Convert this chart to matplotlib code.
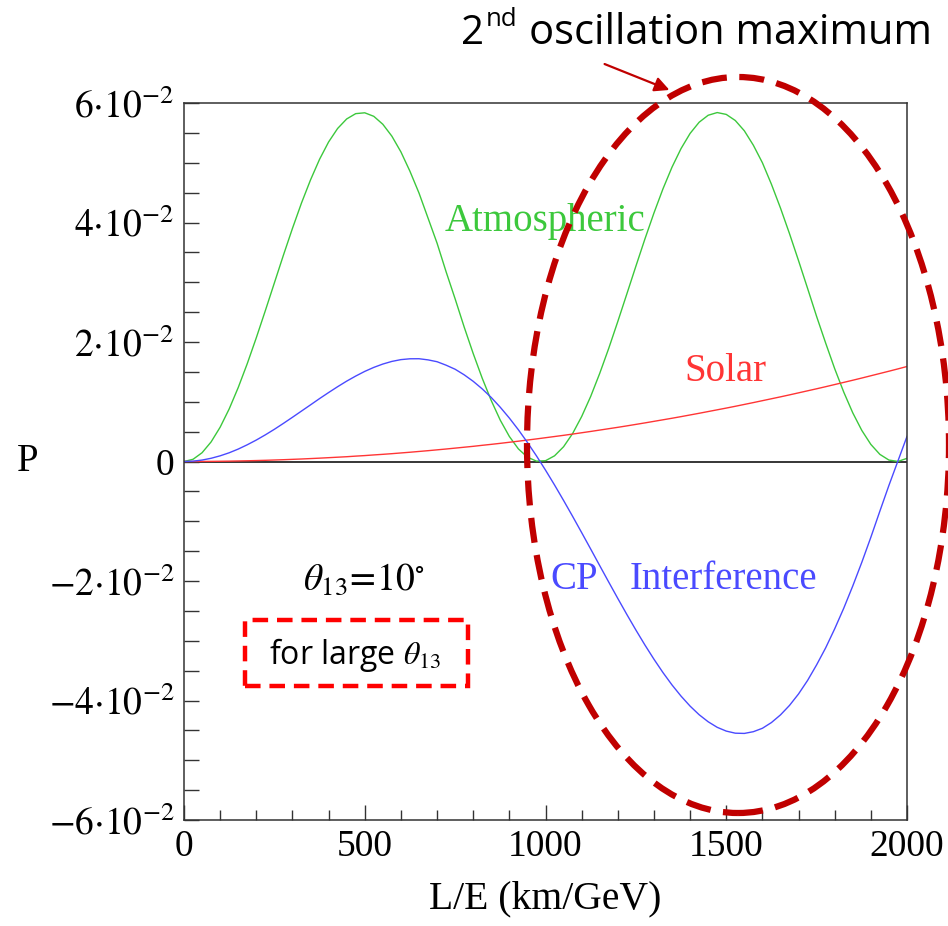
import matplotlib
matplotlib.use("Agg")
import matplotlib.pyplot as plt
from matplotlib.patches import Ellipse, Rectangle, FancyArrowPatch

# L/E grid (km/GeV), step 25, and probabilities
le = list(range(0, 2001, 25))
p_atm = [0.0, 0.00037, 0.00147, 0.00328, 0.00574, 0.00880, 0.01238, 0.01638,
         0.02071, 0.02525, 0.02989, 0.03453, 0.03901, 0.04326, 0.04713, 0.05058,
         0.05348, 0.05574, 0.05733, 0.05822, 0.05836, 0.05777, 0.05644, 0.05445,
         0.05182, 0.04858, 0.04494, 0.04075, 0.03655, 0.03176, 0.02722, 0.02251,
         0.01807, 0.01393, 0.01019, 0.00690, 0.00419, 0.00211, 0.00073, 0.00006,
         0.00013, 0.00095, 0.00247, 0.00468, 0.00752, 0.01089, 0.01475, 0.01895,
         0.02343, 0.02804, 0.03268, 0.03724, 0.04159, 0.04564, 0.04927, 0.05238,
         0.05491, 0.05678, 0.05795, 0.05840, 0.05809, 0.05707, 0.05535, 0.05293,
         0.05000, 0.04640, 0.04242, 0.03813, 0.03361, 0.02897, 0.02427, 0.01982,
         0.01553, 0.01162, 0.00814, 0.00520, 0.00286, 0.00119, 0.00024, 0.00001,
         0.00053]
p_sol = [0.0, 0.00000, 0.00001, 0.00002, 0.00004, 0.00006, 0.00009, 0.00012,
         0.00016, 0.00020, 0.00025, 0.00030, 0.00036, 0.00042, 0.00049, 0.00056,
         0.00064, 0.00072, 0.00080, 0.00090, 0.00099, 0.00110, 0.00120, 0.00131,
         0.00143, 0.00155, 0.00168, 0.00181, 0.00195, 0.00209, 0.00224, 0.00239,
         0.00254, 0.00271, 0.00287, 0.00304, 0.00322, 0.00340, 0.00359, 0.00378,
         0.00398, 0.00418, 0.00438, 0.00459, 0.00481, 0.00503, 0.00526, 0.00549,
         0.00572, 0.00596, 0.00621, 0.00646, 0.00672, 0.00698, 0.00724, 0.00751,
         0.00779, 0.00807, 0.00836, 0.00865, 0.00894, 0.00924, 0.00955, 0.00986,
         0.01018, 0.01050, 0.01082, 0.01115, 0.01149, 0.01183, 0.01217, 0.01252,
         0.01288, 0.01324, 0.01360, 0.01397, 0.01435, 0.01473, 0.01511, 0.01550,
         0.01590]
p_cp = [0.0, 0.00006, 0.00024, 0.00054, 0.00095, 0.00146, 0.00208, 0.00280,
        0.00359, 0.00446, 0.00539, 0.00638, 0.00740, 0.00844, 0.00948, 0.01053,
        0.01154, 0.01252, 0.01345, 0.01430, 0.01508, 0.01575, 0.01631, 0.01675,
        0.01705, 0.01719, 0.01720, 0.01701, 0.01670, 0.01612, 0.01544, 0.01451,
        0.01342, 0.01215, 0.01071, 0.00907, 0.00727, 0.00531, 0.00319, 0.00094,
        -0.00144, -0.00393, -0.00652, -0.00918, -0.01190, -0.01465, -0.01743,
        -0.02019, -0.02292, -0.02560, -0.02820, -0.03071, -0.03309, -0.03533,
        -0.03740, -0.03927, -0.04094, -0.04238, -0.04356, -0.04449, -0.04512,
        -0.04547, -0.04551, -0.04522, -0.04465, -0.04369, -0.04241, -0.04082,
        -0.03890, -0.03664, -0.03403, -0.03119, -0.02800, -0.02456, -0.02083,
        -0.01687, -0.01268, -0.00830, -0.00400, 0.00010, 0.00420]

yticks = [-0.06, -0.04, -0.02, 0.0, 0.02, 0.04, 0.06]
ytick_labels = [r"$-6{\cdot}10^{-2}$", r"$-4{\cdot}10^{-2}$", r"$-2{\cdot}10^{-2}$",
                "0", r"$2{\cdot}10^{-2}$", r"$4{\cdot}10^{-2}$", r"$6{\cdot}10^{-2}$"]
xticks = [0, 500, 1000, 1500, 2000]

GREEN, RED, BLUE = "#3cc83c", "#ff3535", "#4a4aff"
DARKRED = "#c00000"
SANS = ["Open Sans", "DejaVu Sans"]

plt.rcParams["font.family"] = ["Liberation Serif", "DejaVu Serif"]
plt.rcParams["mathtext.fontset"] = "stix"

fig = plt.figure(figsize=(9.48, 9.26), dpi=100)
ax = fig.add_axes([184 / 948, 1 - 820 / 926, 723 / 948, 717 / 926])

ax.plot(le, p_atm, color=GREEN, lw=1.0)
ax.plot(le, p_sol, color=RED, lw=1.0)
ax.plot(le, p_cp, color=BLUE, lw=1.0)
ax.axhline(0, color="black", lw=1.1, zorder=1)

ax.set_xlim(0, 2000)
ax.set_ylim(-0.06, 0.06)
ax.set_xticks(xticks)
ax.set_xticks(range(0, 2001, 100), minor=True)
ax.set_yticks(yticks)
ax.set_yticklabels(ytick_labels)
ax.set_yticks([v / 1000 for v in range(-60, 61, 5)], minor=True)
ax.tick_params(axis="both", which="both", direction="in", top=False, right=False,
               labelsize=27, width=1.0, color="#333333")
ax.tick_params(axis="y", which="both", length=11, pad=7)
ax.tick_params(axis="x", which="major", length=11, pad=7)
ax.tick_params(axis="x", which="minor", length=7)
for sp in ax.spines.values():
    sp.set_linewidth(1.1)
    sp.set_color("#333333")

ax.set_xlabel("L/E (km/GeV)", fontsize=28.5, labelpad=12)
fig.text(28 / 948, 1 - 462 / 926, "P", fontsize=28, ha="center", va="center")

ax.text(999, 0.0401, "Atmospheric", color=GREEN, fontsize=28, ha="center", va="center")
ax.text(1497, 0.0150, "Solar", color=RED, fontsize=28, ha="center", va="center")
ax.text(1079, -0.0198, "CP", color=BLUE, fontsize=28, ha="center", va="center")
ax.text(1491, -0.0198, "Interference", color=BLUE, fontsize=28, ha="center", va="center")
ax.text(498, -0.0198, r"$\theta_{13}\!=\!10^{\circ}$", fontsize=27, ha="center", va="center")

# red dashed box "for large theta13"
fig.patches.append(Rectangle((245 / 948, 1 - 686 / 926), 223 / 948, 66 / 926,
                             transform=fig.transFigure, fill=False, edgecolor="#ff0000",
                             lw=3.2, ls=(0, (3.5, 2))))
fig.text(355 / 948, 1 - 655 / 926, r"for large $\theta_{\mathit{13}}$", fontsize=23,
         family=SANS, ha="center", va="center")

# big ellipse around the second oscillation maximum
fig.patches.append(Ellipse((738 / 948, 1 - 445 / 926), 422 / 948, 736 / 926,
                           transform=fig.transFigure, fill=False, edgecolor=DARKRED,
                           lw=4.5, ls=(0, (4, 2)), clip_on=False))
fig.patches.append(FancyArrowPatch((602 / 948, 1 - 63 / 926), (672 / 948, 1 - 91 / 926),
                                   transform=fig.transFigure, arrowstyle="-|>",
                                   mutation_scale=22, color=DARKRED, lw=1.6))
fig.text(484 / 948, 1 - 44 / 926, "2", fontsize=29, family=SANS, ha="right", va="baseline")
fig.text(486 / 948, 1 - 26 / 926, "nd", fontsize=18.5, family=SANS, ha="left", va="baseline")
fig.text(529 / 948, 1 - 44 / 926, "oscillation maximum", fontsize=30, family=SANS,
         ha="left", va="baseline")

fig.savefig("out.png", dpi=100)
